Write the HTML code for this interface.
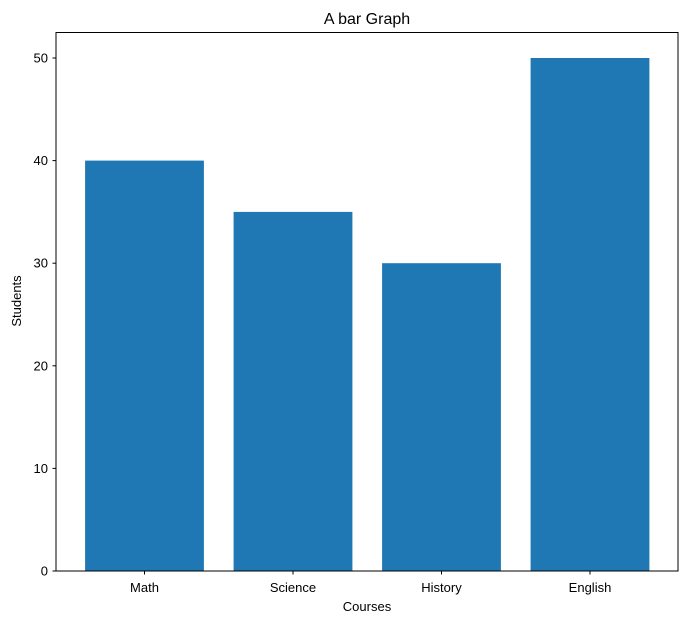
<!DOCTYPE html>
<html><head><meta charset="utf-8"><style>
body{margin:0;background:#fff;}
svg text{font-family:"Liberation Sans","DejaVu Sans",sans-serif;fill:#000;}
</style></head><body>
<svg id="chart" width="686" height="624" xmlns="http://www.w3.org/2000/svg">
<text x="367" y="24" font-size="16" text-anchor="middle">A bar Graph</text>
<text x="367" y="611" font-size="13" text-anchor="middle">Courses</text>
<text x="21" y="301" font-size="13" text-anchor="middle" transform="rotate(-90 21 301)">Students</text>
<g id="bars"></g>
<g id="yticks"></g>
<g id="xticks"></g>
<rect x="56" y="32.5" width="622" height="538.5" fill="none" stroke="#000" stroke-width="1"/>
</svg>
<script>
const categories = ["Math","Science","History","English"];
const values = [40,35,30,50];
const yTicks = [0,10,20,30,40,50];
const NS="http://www.w3.org/2000/svg";
function yScale(v){return 571-v*10.26;}
function xScale(i){return 144.5+148.5*i;}
const bw=0.8*148.5;
const svg=document.getElementById('chart');
const bars=document.getElementById('bars'), yt=document.getElementById('yticks'), xt=document.getElementById('xticks');
categories.forEach((c,i)=>{
  const r=document.createElementNS(NS,'rect');
  
  
  r.setAttribute('x',xScale(i)-bw/2);r.setAttribute('width',bw);
  r.setAttribute('y',yScale(values[i]));r.setAttribute('height',yScale(0)-yScale(values[i]));
  r.setAttribute('fill','#1f77b4');bars.appendChild(r);
  const l=document.createElementNS(NS,'line');
  
  
  l.setAttribute('x1',xScale(i));l.setAttribute('x2',xScale(i));l.setAttribute('y1',571);l.setAttribute('y2',574.5);l.setAttribute('stroke','#000');xt.appendChild(l);
  const t=document.createElementNS(NS,'text');
  
  
  t.setAttribute('x',xScale(i));t.setAttribute('y',592);t.setAttribute('font-size','13');t.setAttribute('text-anchor','middle');t.textContent=c;xt.appendChild(t);
});
yTicks.forEach(v=>{
  const l=document.createElementNS(NS,'line');
  
  
  l.setAttribute('x1',52.5);l.setAttribute('x2',56);l.setAttribute('y1',yScale(v));l.setAttribute('y2',yScale(v));l.setAttribute('stroke','#000');yt.appendChild(l);
  const t=document.createElementNS(NS,'text');
  
  
  t.setAttribute('x',48);t.setAttribute('y',yScale(v)+4.5);t.setAttribute('font-size','13');t.setAttribute('text-anchor','end');t.textContent=v;yt.appendChild(t);
});
</script>
</body></html>
